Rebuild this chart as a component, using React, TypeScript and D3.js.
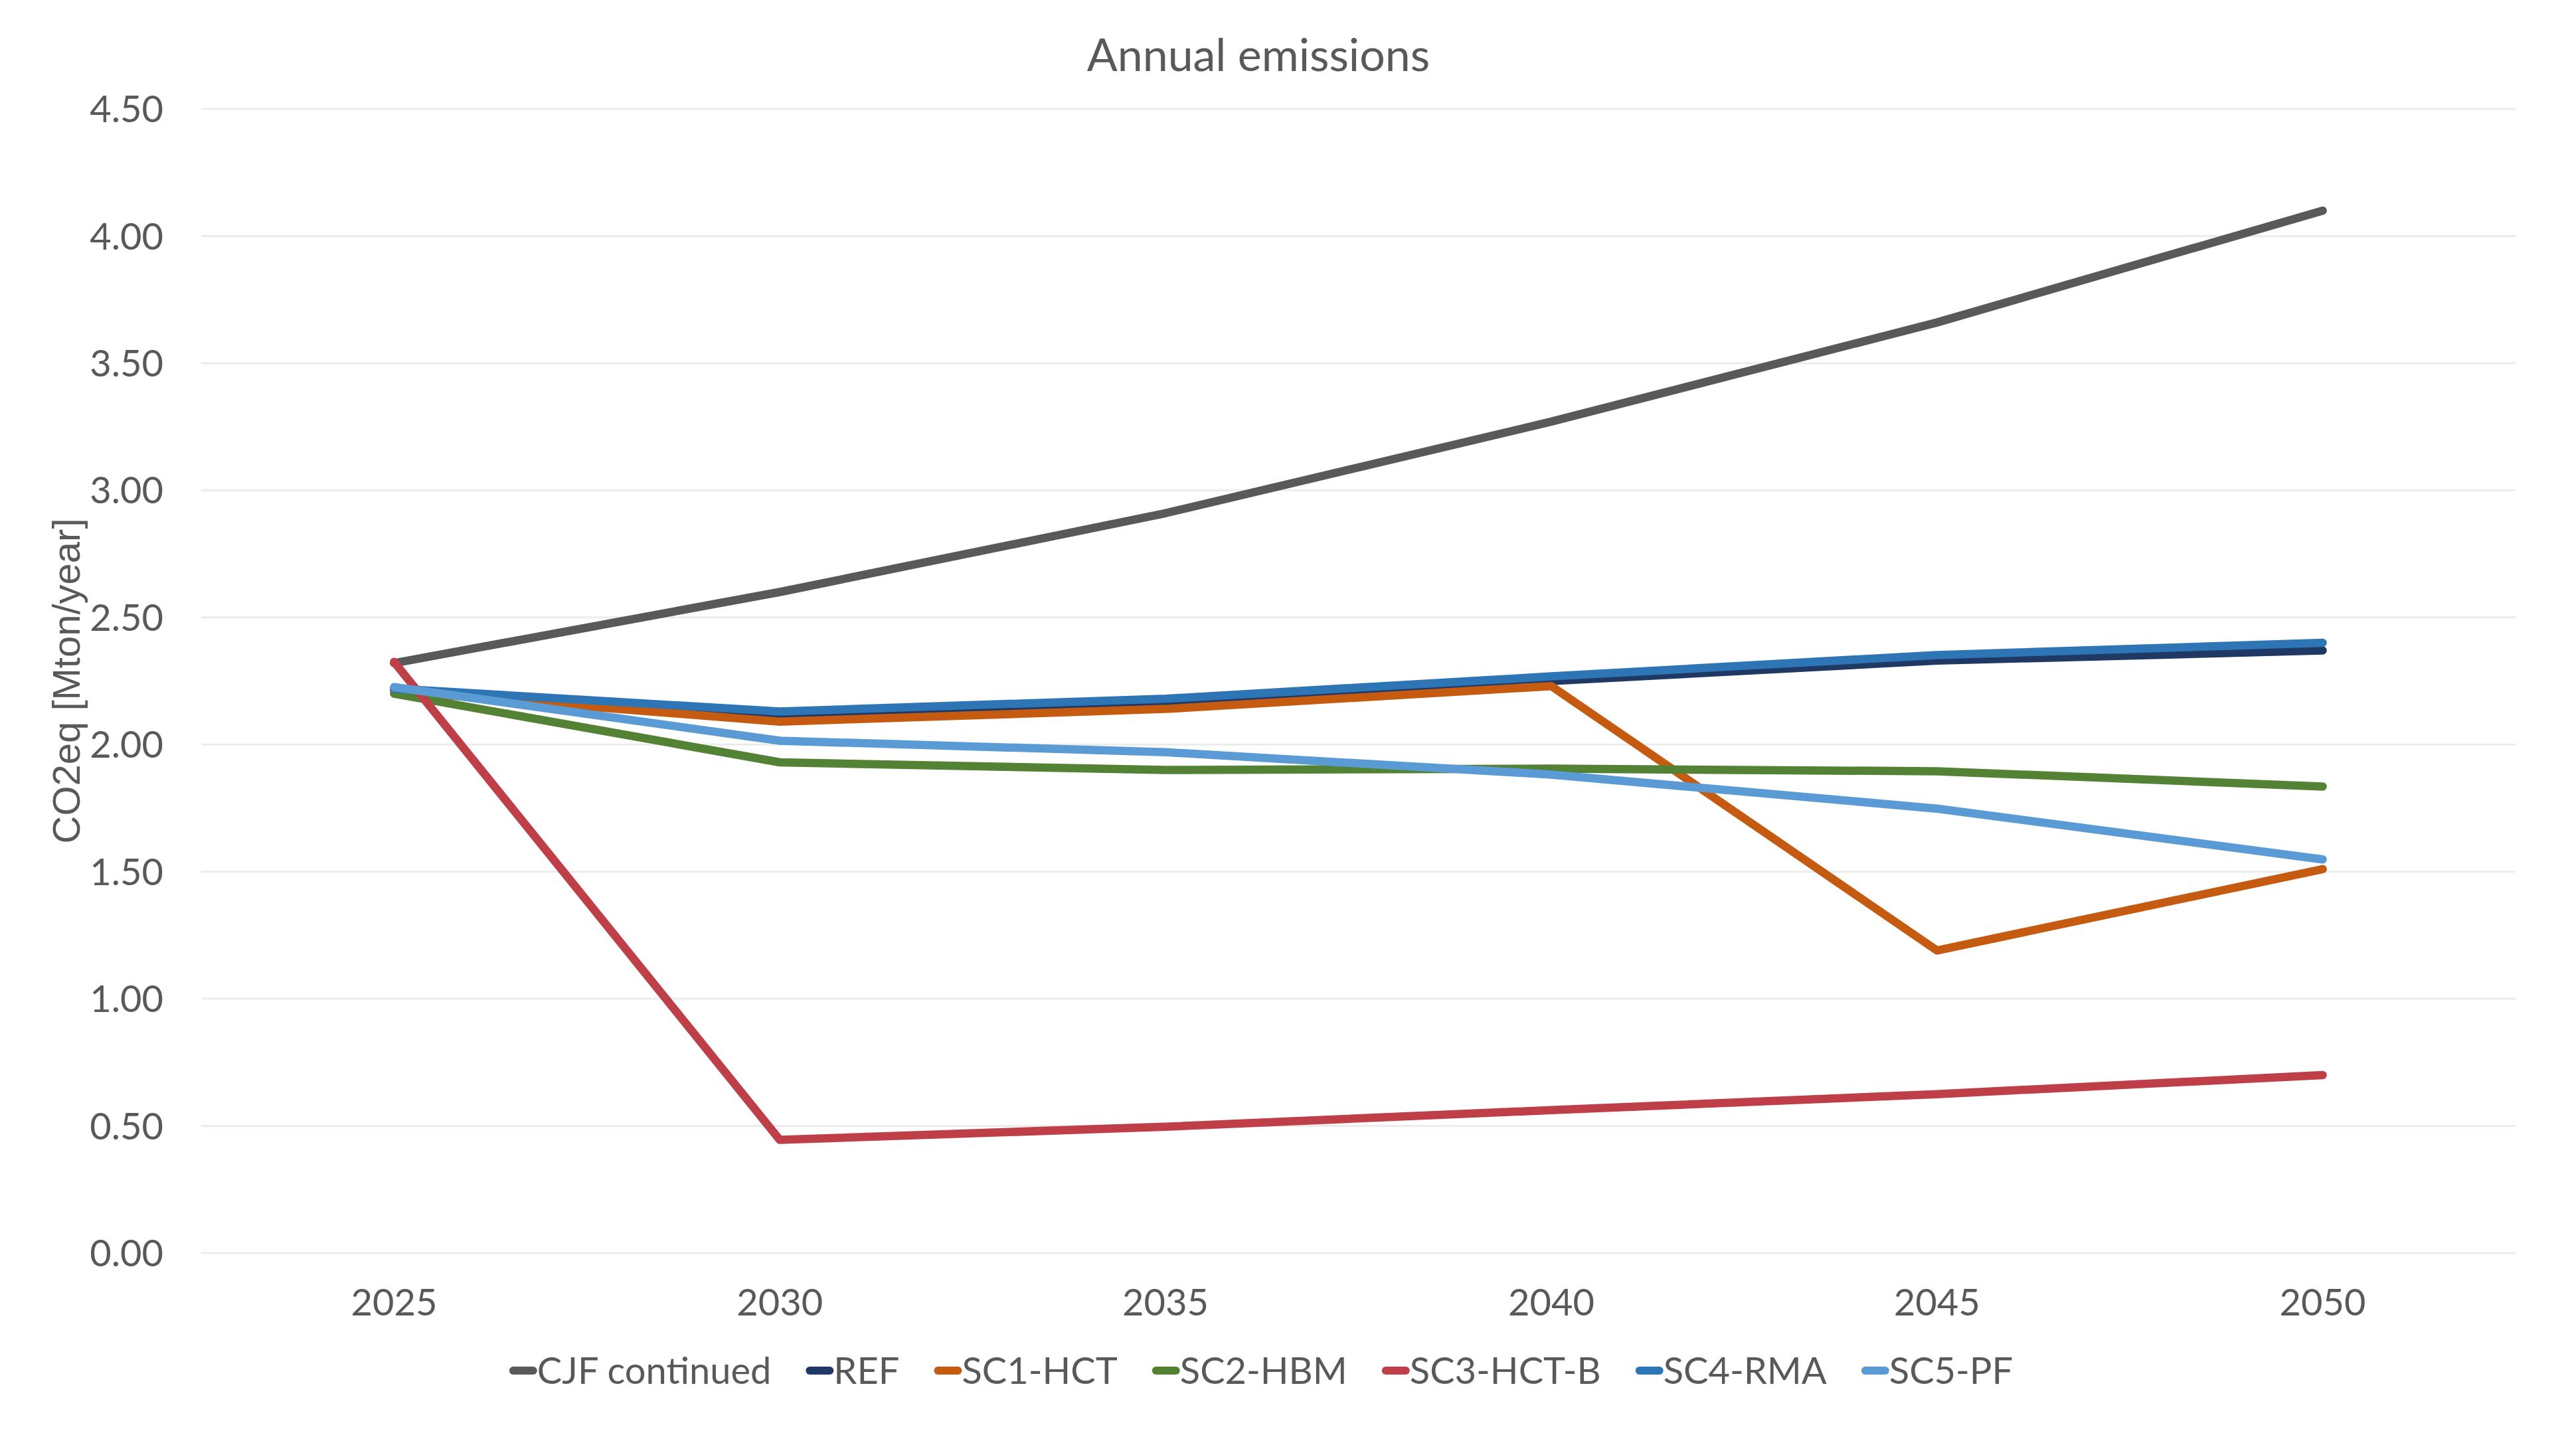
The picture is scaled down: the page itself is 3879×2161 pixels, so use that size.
import { useEffect, useRef } from 'react'
import * as d3 from 'd3'

const years = ['2025', '2030', '2035', '2040', '2045', '2050']

const cjfContinued = [2.32, 2.6, 2.91, 3.27, 3.66, 4.1]
const ref = [2.22, 2.12, 2.17, 2.25, 2.33, 2.37]
const sc1Hct = [2.21, 2.09, 2.14, 2.23, 1.19, 1.51]
const sc2Hbm = [2.2, 1.93, 1.9, 1.905, 1.895, 1.835]
const sc3HctB = [2.325, 0.445, 0.497, 0.562, 0.625, 0.7]
const sc4Rma = [2.22, 2.13, 2.18, 2.268, 2.352, 2.4]
const sc5Pf = [2.226, 2.015, 1.97, 1.882, 1.748, 1.548]

const seriesNames = ['CJF continued', 'REF', 'SC1-HCT', 'SC2-HBM', 'SC3-HCT-B', 'SC4-RMA', 'SC5-PF']
const seriesValues = [cjfContinued, ref, sc1Hct, sc2Hbm, sc3HctB, sc4Rma, sc5Pf]
const seriesColors = ['#595959', '#1f3864', '#c55a11', '#548235', '#be3f48', '#2e75b6', '#5b9bd5']

const yTicks = [0, 0.5, 1, 1.5, 2, 2.5, 3, 3.5, 4, 4.5]

const W = 3879
const H = 2161
const tickFont = 'Lato, "Open Sans", sans-serif'
const textColor = '#595959'

export default function App() {
  const svgRef = useRef<SVGSVGElement>(null)

  useEffect(() => {
    if (!svgRef.current) return
    const svg = d3.select(svgRef.current)
    svg.selectAll('*').remove()

    const plot = { left: 303, right: 3788, top: 164, bottom: 1887 }

    const x = d3.scaleBand().domain(years).range([plot.left, plot.right])
    const y = d3.scaleLinear().domain([0, 4.5]).range([plot.bottom, plot.top])
    const cx = (d: string) => (x(d) || 0) + x.bandwidth() / 2

    svg.append('rect').attr('width', W).attr('height', H).attr('fill', '#ffffff')

    // gridlines
    svg.append('g')
      .selectAll('line')
      .data(yTicks)
      .enter().append('line')
      .attr('x1', plot.left)
      .attr('x2', plot.right)
      .attr('y1', d => y(d))
      .attr('y2', d => y(d))
      .attr('stroke', '#ececec')
      .attr('stroke-width', 3)

    // y tick labels
    svg.append('g')
      .selectAll('text')
      .data(yTicks)
      .enter().append('text')
      .attr('x', 246)
      .attr('y', d => y(d))
      .attr('dy', '0.36em')
      .attr('text-anchor', 'end')
      .style('font-family', tickFont)
      .style('font-size', '56px')
      .style('fill', textColor)
      .text(d => d.toFixed(2))

    // x tick labels
    svg.append('g')
      .selectAll('text')
      .data(years)
      .enter().append('text')
      .attr('x', d => cx(d))
      .attr('y', 1981)
      .attr('text-anchor', 'middle')
      .style('font-family', tickFont)
      .style('font-size', '56px')
      .style('fill', textColor)
      .text(d => d)

    // title
    svg.append('text')
      .attr('x', 1895)
      .attr('y', 107)
      .attr('text-anchor', 'middle')
      .style('font-family', tickFont)
      .style('font-size', '68px')
      .style('fill', textColor)
      .text('Annual emissions')

    // y axis title
    svg.append('text')
      .attr('transform', `translate(120,${(plot.top + plot.bottom) / 2}) rotate(-90)`)
      .attr('text-anchor', 'middle')
      .style('font-family', '"Liberation Sans", Arial, sans-serif')
      .style('font-size', '58px')
      .style('fill', textColor)
      .text('CO2eq [Mton/year]')

    // lines
    const line = d3.line<number>()
      .x((_, i) => cx(years[i]))
      .y(d => y(d))

    svg.append('g')
      .selectAll('path')
      .data(seriesValues)
      .enter().append('path')
      .attr('d', d => line(d))
      .attr('fill', 'none')
      .attr('stroke', (_, i) => seriesColors[i])
      .attr('stroke-width', 12.5)
      .attr('stroke-linecap', 'round')
      .attr('stroke-linejoin', 'round')

    // legend
    const legend = svg.append('g')
    const symW = 30
    const symGap = 12
    const itemGap = 52
    const legendY = 2064
    let offset = 0
    const items: { x: number; i: number }[] = []
    const texts = seriesNames.map((name, i) => {
      const t = legend.append('text')
        .attr('y', legendY)
        .attr('dy', '0.36em')
        .style('font-family', tickFont)
        .style('font-size', '56px')
        .style('fill', textColor)
        .text(name)
      const w = (t.node() as SVGTextElement).getComputedTextLength()
      items.push({ x: offset, i })
      offset += symW + symGap + w + itemGap
      return t
    })
    const total = offset - itemGap
    const start = 1899 - total / 2
    items.forEach((it, k) => {
      const sx = start + it.x
      legend.append('line')
        .attr('x1', sx + 6)
        .attr('x2', sx + 6 + symW)
        .attr('y1', legendY)
        .attr('y2', legendY)
        .attr('stroke', seriesColors[it.i])
        .attr('stroke-width', 12)
        .attr('stroke-linecap', 'round')
      texts[k].attr('x', sx + symW + symGap)
    })
  }, [])

  return (
    <div style={{ position: 'absolute', left: 0, top: 0 }}>
      <svg ref={svgRef} width={W} height={H} style={{ display: 'block' }} />
    </div>
  )
}
